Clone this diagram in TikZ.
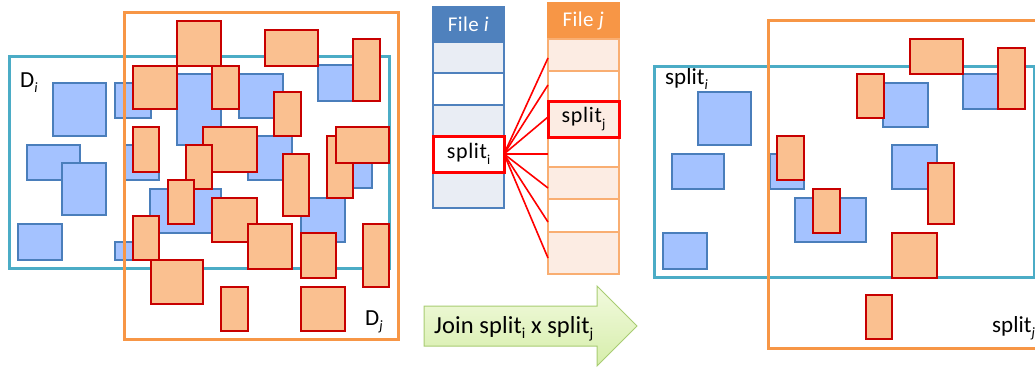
\documentclass[tikz,border=0pt]{standalone}
\usepackage{fontspec}
\setmainfont{Carlito}
\usepackage{graphicx}
\usetikzlibrary{calc}

\definecolor{tealframe}{HTML}{4BACC6}
\definecolor{orgframe}{HTML}{F79646}
\definecolor{bluefill}{HTML}{A4C2FF}
\definecolor{blueline}{HTML}{4A7EBB}
\definecolor{orgfill}{HTML}{FAC090}
\definecolor{orgline}{HTML}{C80000}
\definecolor{hdrblue}{HTML}{4F81BD}
\definecolor{cellblue}{HTML}{E9EDF4}
\definecolor{cellpink}{HTML}{FCECE3}
\definecolor{pinkline}{HTML}{F9AE72}
\definecolor{arrowline}{HTML}{A8CC72}
\definecolor{arrowtop}{HTML}{F2FADF}
\definecolor{arrowbot}{HTML}{D6EEAA}

% lowered, smaller subscript in text font
\newcommand\lowsub[1]{\raisebox{-0.24em}{\scalebox{0.62}{#1}}}

\tikzset{
  bluebox/.style={fill=bluefill, draw=blueline, line width=1.3pt},
  orgbox/.style={fill=orgfill, draw=orgline, line width=1.6pt},
  tealrect/.style={draw=tealframe, line width=3pt},
  orgrect/.style={draw=orgframe, line width=3pt},
  cell/.style={minimum width=71pt, inner sep=0pt, outer sep=0pt,
    anchor=north west, line width=1.2pt,
    font=\fontsize{22}{25}\selectfont\addfontfeature{LetterSpace=3}},
  cellI/.style={cell, draw=hdrblue},
  cellJ/.style={cell, draw=pinkline},
  hdr/.style={text=white,
    font=\fontsize{21}{24}\selectfont\addfontfeature{LetterSpace=2}},
  picked/.style={draw=red, line width=3pt},
  redlink/.style={draw=red, line width=1.6pt},
  label/.style={inner sep=0pt, anchor=base west, font=\fontsize{23}{26}\selectfont},
  joinlabel/.style={inner sep=0pt, anchor=base west,
    font=\fontsize{24.5}{28}\selectfont\addfontfeature{LetterSpace=0.5}},
}

\begin{document}
\begin{tikzpicture}[x=1pt, y=-1pt]
\useasboundingbox (0,0) rectangle (1035,369);

% ---------- left panel: data sets D_i and D_j ----------
\foreach \a/\b/\c/\d in {53/83/106/136, 115/83/151/118, 27/145/80/180,
    62/163/106/215, 124/145/159/180, 177/74/221/145, 239/74/283/118,
    318/65/355/101, 248/136/292/180, 337/150/372/188, 150/189/221/233,
    115/242/133/260, 301/198/345/242, 18/224/62/260}
  \draw[bluebox] (\a,\b) rectangle (\c,\d);

\draw[tealrect] (9,57) rectangle (389,268);
\draw[orgrect] (124,13) rectangle (398,339);

\foreach \a/\b/\c/\d in {177/21/221/66, 133/66/177/109, 212/66/239/109,
    265/30/318/66, 353/39/380/101, 274/92/301/136, 133/127/159/172,
    203/127/257/172, 186/145/212/189, 168/180/194/224, 133/216/159/260,
    151/260/203/304, 327/136/353/198, 336/127/389/163, 283/154/309/216,
    212/198/257/242, 248/224/292/269, 301/233/336/278, 363/224/389/287,
    221/287/248/331, 301/287/345/331}
  \draw[orgbox] (\a,\b) rectangle (\c,\d);

\node[label] (di) at (20,87) {D\lowsub{\textit{i}}};
\node[label] (dj) at (365,325) {D\lowsub{\textit{j}}};

% ---------- middle: the two files and the join ----------
\node[cellI, fill=hdrblue, minimum height=35pt] (fiH) at (433,7) {};
\node[hdr] (fiHt) at (fiH.center) {File \textit{i}};
\node[cellI, fill=cellblue, minimum height=31pt] (fi1) at (433,42) {};
\node[cellI, fill=white, minimum height=32pt] (fi2) at (433,73) {};
\node[cellI, fill=cellblue, minimum height=31pt] (fi3) at (433,105) {};
\node[cellI, fill=cellblue, minimum height=36pt] (fi5) at (433,172) {};
\node[cellI, fill=white, picked, minimum height=36pt] (fiS) at (433,136)
  {split\lowsub{i}};

\node[cellJ, fill=orgframe, draw=orgframe, minimum height=36pt] (fjH) at (548,3) {};
\node[hdr] (fjHt) at (fjH.center) {File \textit{j}};
\node[cellJ, fill=cellpink, minimum height=32pt] (fj1) at (548,39) {};
\node[cellJ, fill=white, minimum height=30pt] (fj2) at (548,71) {};
\node[cellJ, fill=white, minimum height=30pt] (fj4) at (548,137) {};
\node[cellJ, fill=cellpink, minimum height=32pt] (fj5) at (548,167) {};
\node[cellJ, fill=white, minimum height=33pt] (fj6) at (548,199) {};
\node[cellJ, fill=cellpink, minimum height=42pt] (fj7) at (548,232) {};
\node[cellJ, fill=cellpink, picked, minimum height=36pt] (fjS) at (548,101)
  {split\lowsub{j}};

\foreach \k/\y in {1/58, 2/85, 3/117, 4/154, 5/188, 6/222, 7/258} {
  \coordinate (t\k) at (548,\y);
  \draw[redlink] (fiS.east) -- (t\k);
}

\shade[top color=arrowtop, bottom color=arrowbot, draw=arrowline, line width=1pt]
  (424,306) -- (597,306) -- (597,286) -- (637,326) -- (597,366)
  -- (597,346) -- (424,346) -- cycle;
\node[joinlabel] (jn) at (434,333) {Join split\lowsub{i} x split\lowsub{j}};

% ---------- right panel: the two splits ----------
\begin{scope}
\clip (0,0) rectangle (1035,369);
\foreach \a/\b/\c/\d in {698/92/751/145, 672/154/724/189, 770/154/804/189,
    663/233/707/269, 795/198/866/242, 883/83/928/127, 963/74/998/109,
    892/145/937/189}
  \draw[bluebox] (\a,\b) rectangle (\c,\d);

\draw[tealrect] (654,66) rectangle (1034,277);
\draw[orgrect] (768,21) rectangle (1045,348);

\foreach \a/\b/\c/\d in {777/136/804/180, 813/189/840/233, 910/39/963/74,
    998/48/1025/109, 857/74/884/118, 928/163/954/224, 892/233/937/278,
    866/295/892/339}
  \draw[orgbox] (\a,\b) rectangle (\c,\d);

\node[label] (si) at (665,84) {split\lowsub{\textit{i}}};
\node[label] (sj) at (992,332) {split\lowsub{\textit{j}}};
\end{scope}
\end{tikzpicture}
\end{document}
